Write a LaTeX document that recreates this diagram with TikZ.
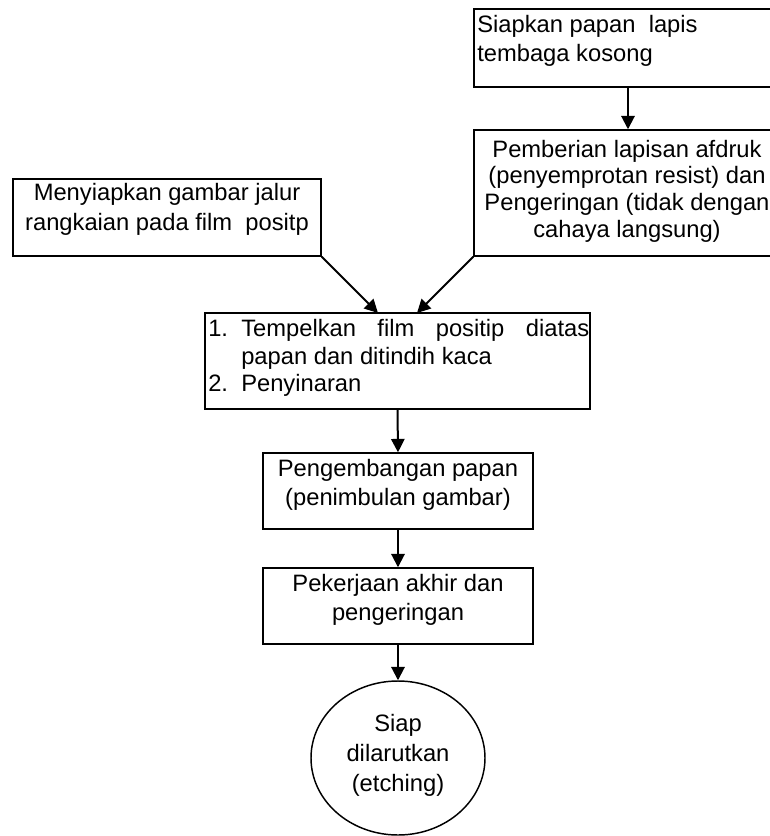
\documentclass[tikz,border=0pt]{standalone}
\usepackage{fontspec}
\setmainfont{Liberation Sans}
\usetikzlibrary{shapes.geometric,arrows.meta}
\tikzset{
  box/.style={draw, line width=1.1pt, rectangle, inner sep=0pt},
  oval/.style={draw, line width=1.1pt, ellipse, inner sep=0pt},
  arr/.style={line width=1.5pt, -{Triangle[length=10pt,width=10pt]}},
  txt/.style={inner sep=0pt, font=\fontsize{17.8pt}{#1}\selectfont},
}
\begin{document}
\begin{tikzpicture}[x=0.75pt,y=-0.75pt]
\useasboundingbox (0,0) rectangle (770,836);
\clip (0,0) rectangle (770,836);
% boxes
\node[box, minimum width=231pt, minimum height=58.5pt] (A) at (628,48) {};
\node[box, minimum width=231pt, minimum height=94.5pt] (B) at (628,193) {};
\node[box, minimum width=231pt, minimum height=57.75pt] (C) at (167,217.5) {};
\node[box, minimum width=288.75pt, minimum height=72pt] (D) at (397.5,361) {};
\node[box, minimum width=202.5pt, minimum height=57pt] (E) at (398,491) {};
\node[box, minimum width=202.5pt, minimum height=57pt] (F) at (398,606) {};
\node[oval, minimum width=130.5pt, minimum height=115.5pt] (G) at (398,758) {};
% texts (base anchor = baseline of the last line)
\node[txt=21.75pt, anchor=base west, align=left] (tA) at (477,61) {Siapkan papan\ \ lapis\\tembaga kosong};
\node[txt=20pt, anchor=base, align=center] (tB) at (627,237) {Pemberian lapisan afdruk\\(penyemprotan resist) dan\\Pengeringan (tidak dengan\\cahaya langsung)};
\node[txt=22pt, anchor=base, align=center] (tC) at (167,230) {Menyiapkan gambar jalur\\rangkaian pada film\ \ positp};
\node[txt=20.6pt, anchor=base west, align=left] (tD) at (208,391.7) {\makebox[24.75pt][l]{1.}\makebox[261pt][s]{Tempelkan film positip diatas}\\\hspace*{24.75pt}papan dan ditindih kaca\\\makebox[24.75pt][l]{2.}Penyinaran};
\node[txt=21.2pt, anchor=base, align=center] (tE) at (398,505) {Pengembangan papan\\(penimbulan gambar)};
\node[txt=21.2pt, anchor=base, align=center] (tF) at (398,620) {Pekerjaan akhir dan\\pengeringan};
\node[txt=22.5pt, anchor=base, align=center] (tG) at (398,791.7) {Siap\\dilarutkan\\(etching)};
% connectors
\coordinate (d1) at (378,313);
\coordinate (d2) at (417,313);
\draw[arr] (A.south) -- (B.north);
\draw[arr] (C.south east) -- (d1);
\draw[arr] (B.south west) -- (d2);
\draw[arr] (D.south) -- (E.north);
\draw[arr] (E.south) -- (F.north);
\draw[arr] (F.south) -- (G.north);
\end{tikzpicture}
\end{document}
